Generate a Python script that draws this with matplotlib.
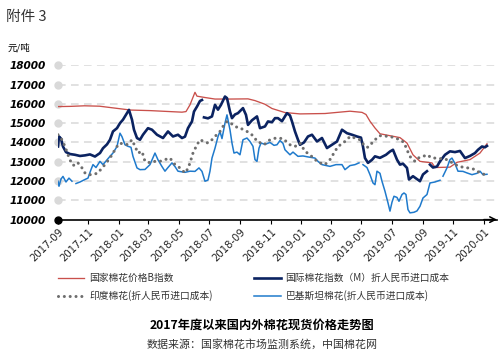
import numpy as np
import pandas as pd
import matplotlib
matplotlib.use("Agg")
import matplotlib.pyplot as plt
import matplotlib.dates as mdates

CJK = ["Noto Sans CJK SC", "DejaVu Sans"]

# 国家棉花价格B指数
red_dates = ["2017-09-01", "2017-09-25", "2017-10-24", "2017-11-23", "2017-12-24", "2018-01-24",
             "2018-03-05", "2018-04-13", "2018-05-07", "2018-05-15", "2018-05-23", "2018-06-02",
             "2018-06-06", "2018-06-22", "2018-07-12", "2018-08-11", "2018-09-16", "2018-09-30",
             "2018-10-20", "2018-11-03", "2018-11-29", "2018-12-29", "2019-02-17", "2019-04-08",
             "2019-05-02", "2019-05-10", "2019-05-18", "2019-05-28", "2019-06-07", "2019-06-27",
             "2019-07-17", "2019-07-31", "2019-08-12", "2019-08-26", "2019-09-19", "2019-09-25",
             "2019-10-25", "2019-11-08", "2019-12-04", "2019-12-24", "2020-01-07"]
red_vals = [15860, 15870, 15900, 15880, 15780, 15680,
            15650, 15600, 15570, 15600, 15950, 16600,
            16400, 16330, 16250, 16250, 16260, 16170,
            15980, 15760, 15550, 15480, 15500, 15620,
            15560, 15450, 15100, 14750, 14450, 14350,
            14250, 13970, 13360, 13020, 12940, 12700,
            12720, 12970, 13110, 13450, 13930]

# 国际棉花指数（M）折人民币进口成本
navy_dates = ["2017-09-01", "2017-09-03", "2017-09-07", "2017-09-11", "2017-09-17", "2017-09-25",
              "2017-10-05", "2017-10-15", "2017-10-25", "2017-11-04", "2017-11-14", "2017-11-24",
              "2017-11-30", "2017-12-08", "2017-12-14", "2017-12-20", "2017-12-28", "2018-01-03",
              "2018-01-09", "2018-01-17", "2018-01-21", "2018-01-27", "2018-01-31", "2018-02-06",
              "2018-02-12", "2018-02-18", "2018-02-28", "2018-03-08", "2018-03-18", "2018-03-30",
              "2018-04-09", "2018-04-19", "2018-04-29", "2018-05-07", "2018-05-13", "2018-05-19",
              "2018-05-27", "2018-05-31", "2018-06-06", "2018-06-12", "2018-06-16", "2018-06-18",
              "2018-06-20", "2018-06-28", "2018-07-06", "2018-07-12", "2018-07-18", "2018-07-24",
              "2018-08-01", "2018-08-05", "2018-08-11", "2018-08-15", "2018-08-21", "2018-08-27",
              "2018-09-06", "2018-09-12", "2018-09-16", "2018-09-24", "2018-10-04", "2018-10-10",
              "2018-10-20", "2018-10-26", "2018-11-03", "2018-11-09", "2018-11-15", "2018-11-23",
              "2018-12-03", "2018-12-09", "2018-12-13", "2018-12-19", "2018-12-25", "2018-12-29",
              "2019-01-06", "2019-01-14", "2019-01-22", "2019-02-01", "2019-02-11", "2019-02-21",
              "2019-03-03", "2019-03-13", "2019-03-23", "2019-04-02", "2019-04-12", "2019-04-22",
              "2019-04-30", "2019-05-04", "2019-05-08", "2019-05-14", "2019-05-22", "2019-05-28",
              "2019-06-07", "2019-06-19", "2019-06-27", "2019-07-03", "2019-07-11", "2019-07-17",
              "2019-07-23", "2019-07-31", "2019-08-04", "2019-08-12", "2019-08-20", "2019-08-26",
              "2019-09-01", "2019-09-09", "2019-09-11", "2019-09-15", "2019-09-21", "2019-09-29",
              "2019-10-05", "2019-10-15", "2019-10-25", "2019-11-04", "2019-11-14", "2019-11-24",
              "2019-12-04", "2019-12-14", "2019-12-20", "2019-12-28", "2020-01-03", "2020-01-07"]
navy_vals = [13790, 14310, 14200, 13790, 13500, 13400,
             13360, 13300, 13330, 13380, 13270, 13450,
             13700, 13900, 14140, 14570, 14740, 15000,
             15180, 15520, 15690, 15180, 14660, 14230,
             14140, 14400, 14740, 14660, 14400, 14230,
             14570, 14310, 14400, 14230, 14300, 14740,
             15090, 15600, 15860, 16150, 16200, np.nan,
             15300, 15250, 15350, 15950, 15700, 15950,
             16380, 16300, 15600, 15260, 15450, 15520,
             15780, 15430, 14910, 15150, 15350, 14740,
             14830, 15090, 15050, 15260, 15260, 15100,
             15520, 15400, 15090, 14570, 14140, 13880,
             14000, 14310, 14400, 14050, 14230, 13710,
             13880, 14050, 14660, 14480, 14400, 14310,
             14250, 13790, 13190, 12940, 13100, 13280,
             13200, 13360, 13530, 13620, 13110, 12850,
             12900, 12680, 12080, 12250, 12100, 11990,
             12340, 12510, np.nan, 12850, 12700, 12750,
             13020, 13360, 13540, 13500, 13560, 13190,
             13300, 13450, 13620, 13790, 13750, 13820]

# 印度棉花(折人民币进口成本)
india_dates = ["2017-09-01", "2017-09-09", "2017-09-15", "2017-09-21", "2017-09-29", "2017-10-05",
               "2017-10-11", "2017-10-19", "2017-10-25", "2017-10-31", "2017-11-10", "2017-11-20",
               "2017-11-28", "2017-12-04", "2017-12-14", "2017-12-20", "2017-12-28", "2018-01-03",
               "2018-01-13", "2018-01-19", "2018-01-27", "2018-02-02", "2018-02-08", "2018-02-16",
               "2018-02-22", "2018-03-04", "2018-03-14", "2018-03-24", "2018-04-03", "2018-04-13",
               "2018-04-23", "2018-05-03", "2018-05-13", "2018-05-19", "2018-05-23", "2018-05-29",
               "2018-06-06", "2018-06-12", "2018-06-20", "2018-06-28", "2018-07-06", "2018-07-12",
               "2018-07-22", "2018-07-28", "2018-08-05", "2018-08-11", "2018-08-19", "2018-08-27",
               "2018-09-04", "2018-09-14", "2018-09-20", "2018-09-28", "2018-10-04", "2018-10-12",
               "2018-10-18", "2018-10-30", "2018-11-11", "2018-11-25", "2018-12-09", "2018-12-19",
               "2018-12-29", "2019-01-08", "2019-01-18", "2019-01-28", "2019-02-07", "2019-02-17",
               "2019-02-27", "2019-03-09", "2019-03-15", "2019-03-25", "2019-04-02", "2019-04-08",
               "2019-04-18", "2019-04-28", "2019-05-08", "2019-05-14", "2019-05-22", "2019-05-28",
               "2019-06-07", "2019-06-27", "2019-07-07", "2019-07-17", "2019-07-25", "2019-07-31",
               "2019-08-06", "2019-08-16", "2019-08-22", "2019-08-30", "2019-09-09", "2019-09-19",
               "2019-09-29", "2019-10-09", "2019-10-19", "2019-10-25", "2019-11-04", "2019-11-14",
               "2019-11-24", "2019-12-04", "2019-12-14", "2019-12-24", "2020-01-03"]
india_vals = [14400, 14140, 13790, 13360, 12850, 12800,
              12940, 12680, 12420, 12330, 12330, 12420,
              12680, 12850, 13190, 13450, 13790, 13970,
              13880, 13900, 14140, 13800, 13450, 13540,
              13020, 12950, 13020, 13020, 13110, 13190,
              12850, 12680, 12420, 12650, 12940, 13450,
              13880, 14140, 14050, 13970, 14140, 14310,
              14570, 14830, 15090, 15000, 14910, 14740,
              14700, 14570, 14480, 14300, 14050, 13970,
              13880, 14140, 14230, 14200, 13880, 13790,
              13970, 13540, 13360, 13110, 12940, 12850,
              13110, 13540, 13790, 13970, 14140, 14310,
              14230, 14140, 13790, 13750, 13970, 14140,
              14350, 14310, 14230, 14140, 14000, 13620,
              13270, 13020, 13190, 13250, 13360, 13190,
              13190, 13150, 13110, 13020, 12850, 12760,
              12680, 12680, 12590, 12420, 12330]

# 巴基斯坦棉花(折人民币进口成本)
pak_dates = ["2017-09-01", "2017-09-03", "2017-09-07", "2017-09-11", "2017-09-17", "2017-09-23",
             "2017-09-29", "2017-10-03", "2017-10-07", "2017-10-15", "2017-10-25", "2017-10-31",
             "2017-11-06", "2017-11-10", "2017-11-16", "2017-11-24", "2017-11-30", "2017-12-08",
             "2017-12-14", "2017-12-20", "2017-12-28", "2018-01-03", "2018-01-07", "2018-01-13",
             "2018-01-19", "2018-01-25", "2018-01-29", "2018-02-06", "2018-02-12", "2018-02-22",
             "2018-03-04", "2018-03-14", "2018-03-20", "2018-03-28", "2018-04-03", "2018-04-09",
             "2018-04-17", "2018-04-23", "2018-04-29", "2018-05-13", "2018-05-23", "2018-06-02",
             "2018-06-10", "2018-06-16", "2018-06-22", "2018-06-28", "2018-07-02", "2018-07-06",
             "2018-07-12", "2018-07-18", "2018-07-22", "2018-07-26", "2018-08-01", "2018-08-05",
             "2018-08-11", "2018-08-15", "2018-08-19", "2018-08-25", "2018-08-31", "2018-09-06",
             "2018-09-14", "2018-09-20", "2018-09-26", "2018-09-30", "2018-10-04", "2018-10-08",
             "2018-10-12", "2018-10-20", "2018-10-30", "2018-11-07", "2018-11-13", "2018-11-19",
             "2018-11-25", "2018-11-29", "2018-12-09", "2018-12-15", "2018-12-25", "2019-01-04",
             "2019-01-14", "2019-01-28", "2019-02-03", "2019-02-11", "2019-02-27", "2019-03-11",
             "2019-03-23", "2019-03-29", "2019-04-08", "2019-04-18", "2019-04-26", "2019-04-30",
             "2019-05-04", "2019-05-12", "2019-05-18", "2019-05-24", "2019-05-28", "2019-06-01",
             "2019-06-07", "2019-06-11", "2019-06-17", "2019-06-23", "2019-06-27", "2019-07-01",
             "2019-07-05", "2019-07-11", "2019-07-15", "2019-07-21", "2019-07-25", "2019-07-29",
             "2019-08-02", "2019-08-06", "2019-08-14", "2019-08-20", "2019-08-26", "2019-09-01",
             "2019-09-09", "2019-09-15", "2019-09-25", "2019-10-05", "2019-10-09", "2019-10-11",
             "2019-10-19", "2019-10-25", "2019-10-29", "2019-11-04", "2019-11-10", "2019-11-20",
             "2019-11-28", "2019-12-08", "2019-12-18", "2019-12-24", "2019-12-30", "2020-01-07"]
pak_vals = [11990, 11730, 12100, 12240, 11950, 12150,
            11990, np.nan, 11870, 11950, 12080, 12150,
            12590, 12850, 12700, 13020, 12850, 13100,
            13280, 13450, 13790, 14480, 14300, 13880,
            13800, 13750, 13280, 12680, 12590, 12600,
            12850, 13450, 13100, 12750, 12510, 12700,
            12940, 12750, 12510, 12450, 12510, 12500,
            12680, 12500, 11990, 12050, 12510, 13190,
            13700, 14300, 14570, 14200, 15000, 15430,
            14660, 13970, 13450, 13500, 13360, 14140,
            14230, 14050, 13800, 13110, 13020, 13700,
            13970, 13900, 14000, 13850, 13880, 14100,
            13950, 13620, 13360, 13500, 13280, 13300,
            13250, 13190, 13020, 12850, 12760, 12850,
            12850, 12590, 12800, 12850, 12940, np.nan,
            12850, 12700, 12330, 11900, 11810, 12510,
            12400, 11990, 11470, 10870, 10440, 10900,
            11210, 11150, 10950, 11300, 11380, 11300,
            10520, 10350, 10380, 10450, 10690, 11120,
            11300, 11900, 11950, 12040, np.nan, 12250,
            12680, 13110, 13190, 12900, 12510, 12500,
            12420, 12330, 12400, 12510, 12330, 12350]

y_ticks = [10000, 11000, 12000, 13000, 14000, 15000, 16000, 17000, 18000]
x_ticks = ["2017-09", "2017-11", "2018-01", "2018-03", "2018-05", "2018-07", "2018-09",
           "2018-11", "2019-01", "2019-03", "2019-05", "2019-07", "2019-09", "2019-11", "2020-01"]

labels = ["国家棉花价格B指数", "国际棉花指数（M）折人民币进口成本",
          "印度棉花(折人民币进口成本)", "巴基斯坦棉花(折人民币进口成本)"]


def main() -> None:
    plt.rcParams["font.family"] = ["DejaVu Sans", "Noto Sans CJK SC"]
    fig = plt.figure(figsize=(5.02, 3.59), dpi=100)
    ax = fig.add_axes([0.1155, 0.3883, 0.8745, 0.4298])

    x_left = pd.Timestamp("2017-09-01")
    x_right = pd.Timestamp("2020-01-27")

    l_red, = ax.plot(pd.to_datetime(red_dates), red_vals, color="#C9504B", lw=0.95, zorder=3)
    l_navy, = ax.plot(pd.to_datetime(navy_dates), navy_vals, color="#0B2361", lw=1.9, zorder=4)
    l_pak, = ax.plot(pd.to_datetime(pak_dates), pak_vals, color="#1F7ACC", lw=1.1, zorder=5)
    l_ind, = ax.plot(pd.to_datetime(india_dates), india_vals, color="#6E6E6E", lw=2.2,
                     linestyle=(0, (0.01, 1.9)), dash_capstyle="round", zorder=6)

    ax.set_xlim(x_left, x_right)
    ax.set_ylim(10000, 18000)
    ax.set_yticks(y_ticks)
    ax.set_yticklabels([str(v) for v in y_ticks], fontsize=7.6, fontweight="bold",
                       fontstyle="italic", color="black")
    ax.tick_params(axis="y", length=0, pad=9)

    ax.set_xticks(pd.to_datetime(x_ticks))
    ax.xaxis.set_major_formatter(mdates.DateFormatter("%Y-%m"))
    ax.tick_params(axis="x", length=3, width=0.8, color="black", pad=2)
    for t in ax.get_xticklabels():
        t.set_rotation(45)
        t.set_ha("right")
        t.set_va("top")
        t.set_rotation_mode("anchor")
        t.set_fontsize(7.3)
        t.set_color("#222222")

    # rácsvonalak
    for v in y_ticks[1:]:
        ax.axhline(v, color="#D9D9D9", lw=1.1, dashes=(5, 3.5), zorder=1)
    ax.plot([x_left] * (len(y_ticks) - 1), y_ticks[1:], "o", ms=5, color="#D9D9D9",
            clip_on=False, zorder=2)
    ax.plot([x_left], [y_ticks[0]], "o", ms=5, color="black", clip_on=False, zorder=7)

    for s in ["left", "top", "right"]:
        ax.spines[s].set_visible(False)
    ax.spines["bottom"].set_color("black")
    ax.spines["bottom"].set_linewidth(1.2)
    ax.annotate("", xy=(1.0, 0), xytext=(0.97, 0), xycoords="axes fraction",
                arrowprops=dict(arrowstyle="->", color="black", lw=1.1,
                                shrinkA=0, shrinkB=0), annotation_clip=False)

    fig.legend([l_red, l_ind, l_navy, l_pak], [labels[0], labels[2], labels[1], labels[3]],
               ncol=2, loc="center left", bbox_to_anchor=(0.098, 0.2005), frameon=False,
               prop={"family": CJK, "size": 7}, labelcolor="#333333",
               handlelength=2.7, handletextpad=0.5, columnspacing=4.3, labelspacing=0.75)

    fig.text(0.002 + 0.01, 0.952, "附件 3", family=CJK, fontsize=10.5, color="#333333",
             va="center", ha="left")
    fig.text(0.016, 0.866, "元/吨", family=CJK, fontsize=6.8, color="black",
             va="center", ha="left")
    fig.text(0.522, 0.095, "2017年度以来国内外棉花现货价格走势图", family=CJK, fontsize=8.8,
             fontweight="bold", color="black", ha="center", va="center")
    fig.text(0.522, 0.042, "数据来源：国家棉花市场监测系统，中国棉花网", family=CJK,
             fontsize=7.9, color="#333333", ha="center", va="center")

    fig.savefig("out.png", dpi=100)


if __name__ == "__main__":
    main()
